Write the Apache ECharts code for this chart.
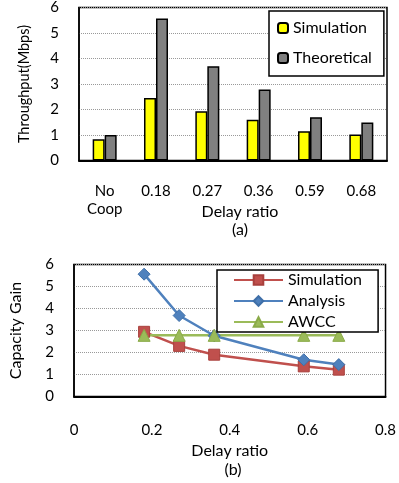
<!DOCTYPE html>
<html>
<head>
<meta charset="utf-8">
<script src="https://cdn.jsdelivr.net/npm/echarts@6/dist/echarts.min.js"></script>
<style>
  html, body { margin: 0; padding: 0; background: #fff; }
  #main { width: 399px; height: 483px; }
</style>
</head>
<body>
<div id="main"></div>
<script>
// (a) throughput per delay ratio
const categories = ["No\nCoop", "0.18", "0.27", "0.36", "0.59", "0.68"];
const simThroughput = [0.83, 2.45, 1.93, 1.6, 1.15, 1.02];
const theoThroughput = [1.0, 5.57, 3.7, 2.78, 1.7, 1.49];

// (b) capacity gain vs delay ratio
const delayRatio = [0.18, 0.27, 0.36, 0.59, 0.68];
const simGain = [2.94, 2.3, 1.9, 1.37, 1.22];
const analysisGain = [5.56, 3.68, 2.76, 1.67, 1.45];
const awccGain = [2.78, 2.78, 2.78, 2.78, 2.78];

const font = "Lato";
const txt = "#000";

const chart = echarts.init(document.getElementById("main"));

const gridLine = { show: true, lineStyle: { color: "#999", type: "dotted", width: 1 } };

const option = {
  animation: false,
  textStyle: { fontFamily: font, color: txt },
  grid: [
    { left: 79, top: 7.5, width: 308, height: 153, show: true, borderColor: "#000", borderWidth: 1.5 },
    { left: 73, top: 264.5, width: 316, height: 132, show: true, borderColor: "#000", borderWidth: 1.5 },
  ],
  legend: [
    {
      data: ["Simulation", "Theoretical"],
      orient: "vertical",
      left: 269, top: 11,
      padding: [8, 12, 9, 8],
      itemWidth: 10, itemHeight: 10, itemGap: 12,
      borderColor: "#000", borderWidth: 1.5,
      backgroundColor: "#fff",
      textStyle: { fontFamily: font, fontSize: 16, color: txt, lineHeight: 18 },
    },
    {
      data: ["Simulation ", "Analysis", "AWCC"],
      orient: "vertical",
      left: 217, top: 270,
      padding: [1, 12, 1, 16],
      itemWidth: 49, itemHeight: 12, itemGap: 3,
      borderColor: "#000", borderWidth: 1.5,
      backgroundColor: "#fff",
      textStyle: { fontFamily: font, fontSize: 16, color: txt, lineHeight: 18 },
    },
  ],
  xAxis: [
    {
      gridIndex: 0,
      type: "category",
      data: categories,
      name: "Delay ratio",
      nameLocation: "middle",
      nameGap: 43,
      nameMoveOverlap: false,
      nameTextStyle: { fontSize: 16, color: txt, fontFamily: font, padding: [0, 0, 0, 14] },
      axisLine: { lineStyle: { color: "#000", width: 2 } },
      axisTick: { show: false },
      axisLabel: { margin: 22, fontSize: 15, lineHeight: 18, color: txt, fontFamily: font },
    },
    {
      gridIndex: 1,
      type: "value",
      min: 0, max: 0.8, interval: 0.2,
      name: "Delay ratio",
      nameLocation: "middle",
      nameGap: 46,
      nameMoveOverlap: false,
      nameTextStyle: { fontSize: 16, color: txt, fontFamily: font },
      axisLine: { show: true, lineStyle: { color: "#000", width: 2 } },
      axisTick: { show: false },
      splitLine: { show: false },
      axisLabel: { margin: 26, fontSize: 15, color: txt, fontFamily: font, formatter: (v) => String(Math.round(v * 10) / 10) },
    },
  ],
  yAxis: [
    {
      gridIndex: 0,
      type: "value",
      min: 0, max: 6, interval: 1,
      name: "Throughput(Mbps)",
      nameLocation: "middle",
      nameGap: 47,
      nameMoveOverlap: false,
      nameTextStyle: { fontSize: 14.5, color: txt, fontFamily: font },
      axisLine: { show: true, lineStyle: { color: "#000", width: 1.5 } },
      axisTick: { show: false },
      splitLine: gridLine,
      axisLabel: { margin: 20, fontSize: 15, color: txt, fontFamily: font },
    },
    {
      gridIndex: 1,
      type: "value",
      min: 0, max: 6, interval: 1,
      name: "Capacity Gain",
      nameLocation: "middle",
      nameGap: 50,
      nameMoveOverlap: false,
      nameTextStyle: { fontSize: 16, color: txt, fontFamily: font },
      axisLine: { show: true, lineStyle: { color: "#000", width: 1.5 } },
      axisTick: { show: false },
      splitLine: gridLine,
      axisLabel: { margin: 20, fontSize: 15, color: txt, fontFamily: font },
    },
  ],
  series: [
    {
      name: "Simulation",
      type: "bar",
      xAxisIndex: 0, yAxisIndex: 0,
      barWidth: 12, barGap: "0%",
      itemStyle: { color: "#FFFF00", borderColor: "#000", borderWidth: 1.5 },
      data: simThroughput,
    },
    {
      name: "Theoretical",
      type: "bar",
      xAxisIndex: 0, yAxisIndex: 0,
      barWidth: 12, barGap: "0%",
      itemStyle: { color: "#808080", borderColor: "#000", borderWidth: 1.5 },
      data: theoThroughput,
    },
    {
      name: "Simulation ",
      type: "line",
      xAxisIndex: 1, yAxisIndex: 1,
      symbol: "rect", symbolSize: 11,
      lineStyle: { color: "#C0504D", width: 2.5 },
      itemStyle: { color: "#C0504D", borderColor: "#A8403D", borderWidth: 1 },
      data: delayRatio.map((x, i) => [x, simGain[i]]),
    },
    {
      name: "Analysis",
      type: "line",
      xAxisIndex: 1, yAxisIndex: 1,
      symbol: "diamond", symbolSize: 12,
      lineStyle: { color: "#4F81BD", width: 2.5 },
      itemStyle: { color: "#4F81BD", borderColor: "#3F6FA8", borderWidth: 1 },
      data: delayRatio.map((x, i) => [x, analysisGain[i]]),
    },
    {
      name: "AWCC",
      type: "line",
      xAxisIndex: 1, yAxisIndex: 1,
      symbol: "triangle", symbolSize: 12,
      lineStyle: { color: "#9BBB59", width: 2.5 },
      itemStyle: { color: "#9BBB59", borderColor: "#8AAA48", borderWidth: 1 },
      data: delayRatio.map((x, i) => [x, awccGain[i]]),
    },
  ],
  graphic: [
    { type: "text", x: 240, y: 230, style: { text: "(a)", fontSize: 16, fontFamily: font, fill: txt, textAlign: "center", textVerticalAlign: "middle" } },
    { type: "text", x: 233, y: 470, style: { text: "(b)", fontSize: 16, fontFamily: font, fill: txt, textAlign: "center", textVerticalAlign: "middle" } },
  ],
};

chart.setOption(option);
</script>
</body>
</html>
